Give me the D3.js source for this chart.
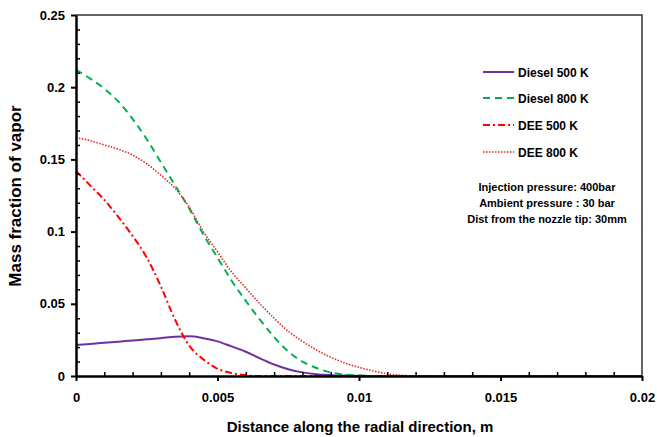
<!DOCTYPE html>
<html>
<head>
<meta charset="utf-8">
<script src="https://cdn.jsdelivr.net/npm/d3@7"></script>
<style>
  html, body { margin: 0; padding: 0; background: #fff; }
  svg { display: block; font-family: "Liberation Sans", Arial, sans-serif; font-weight: bold; }
</style>
</head>
<body>
<svg id="chart" width="657" height="437"></svg>
<script>
// Radial distance (m)
const radius = [0, 0.0005, 0.001, 0.0015, 0.002, 0.0025, 0.003, 0.0035, 0.004, 0.0045,
  0.005, 0.0055, 0.006, 0.0065, 0.007, 0.0075, 0.008, 0.0085, 0.009, 0.0095,
  0.01, 0.0105, 0.011, 0.0115, 0.012, 0.014, 0.016, 0.018, 0.02];

// Mass fraction of vapor for each case
const diesel500 = [0.0215, 0.0222, 0.0230, 0.0238, 0.0246, 0.0254, 0.0262, 0.0272, 0.0275, 0.0262,
  0.0240, 0.0205, 0.0168, 0.0122, 0.0080, 0.0047, 0.0025, 0.0012, 0.0006, 0.0003,
  0.0001, 0, 0, 0, 0, 0, 0, 0, 0];
const diesel800 = [0.212, 0.206, 0.199, 0.190, 0.178, 0.164, 0.148, 0.132, 0.116, 0.098,
  0.082, 0.066, 0.052, 0.039, 0.027, 0.017, 0.010, 0.0055, 0.0025, 0.001,
  0.0003, 0, 0, 0, 0, 0, 0, 0, 0];
const dee500 = [0.142, 0.132, 0.122, 0.110, 0.097, 0.082, 0.062, 0.039, 0.021, 0.0115,
  0.005, 0.002, 0.0005, 0, 0, 0, 0, 0, 0, 0,
  0, 0, 0, 0, 0, 0, 0, 0, 0];
const dee800 = [0.165, 0.163, 0.160, 0.157, 0.153, 0.147, 0.139, 0.130, 0.117, 0.100,
  0.086, 0.072, 0.061, 0.050, 0.040, 0.031, 0.024, 0.018, 0.013, 0.009,
  0.006, 0.0035, 0.0015, 0.0005, 0, 0, 0, 0, 0];

const seriesNames = ["Diesel 500 K", "Diesel 800 K", "DEE 500 K", "DEE 800 K"];
const xTicks = [0, 0.005, 0.01, 0.015, 0.02];
const xTickLabels = ["0", "0.005", "0.01", "0.015", "0.02"];
const yTicks = [0, 0.05, 0.1, 0.15, 0.2, 0.25];
const yTickLabels = ["0", "0.05", "0.1", "0.15", "0.2", "0.25"];
const notes = ["Injection pressure: 400bar", "Ambient pressure : 30 bar", "Dist from the nozzle tip: 30mm"];

const styles = [
  { color: "#7030a0", dash: null, width: 2 },
  { color: "#00b050", dash: "7,5", width: 2 },
  { color: "#ff0000", dash: "7,3,2,3", width: 2 },
  { color: "#e02828", dash: "1.5,1.5", width: 1.6 }
];
const seriesValues = [diesel500, diesel800, dee500, dee800];

const svg = d3.select("#chart");
const plot = { left: 76, right: 642, top: 15, bottom: 376 };

const x = d3.scaleLinear().domain([0, 0.02]).range([plot.left, plot.right]);
const y = d3.scaleLinear().domain([0, 0.25]).range([plot.bottom, plot.top]);

// Plot-area frame (top and right)
svg.append("path")
  .attr("d", `M${plot.left},${plot.top}H${plot.right}V${plot.bottom}`)
  .attr("fill", "none").attr("stroke", "#333").attr("stroke-width", 1.5);

// Series curves
const line = d3.line()
  .x(d => x(d[0]))
  .y(d => y(d[1]))
  .curve(d3.curveMonotoneX);

seriesValues.forEach((vals, i) => {
  const pts = radius.map((r, k) => [r, vals[k]]);
  svg.append("path")
    .datum(pts)
    .attr("d", line)
    .attr("fill", "none")
    .attr("stroke", styles[i].color)
    .attr("stroke-width", styles[i].width)
    .attr("stroke-dasharray", styles[i].dash);
});

// Y axis: outward majors, inward minors
const yMinor = d3.range(0, 0.2501, 0.01).filter(v => Math.abs(v / 0.05 - Math.round(v / 0.05)) > 1e-6);
svg.append("g")
  .attr("transform", `translate(${plot.left},0)`)
  .call(d3.axisRight(y).tickValues(yMinor).tickSize(4).tickFormat(""))
  .call(g => g.select(".domain").remove())
  .call(g => g.selectAll("line").attr("stroke", "#000").attr("stroke-width", 1.5));

const yAxis = svg.append("g")
  .attr("transform", `translate(${plot.left},0)`)
  .call(d3.axisLeft(y).tickValues(yTicks).tickSize(5).tickSizeOuter(0).tickPadding(6)
    .tickFormat((d, i) => yTickLabels[i]));
yAxis.select(".domain").attr("stroke", "#000").attr("stroke-width", 2.5);
yAxis.selectAll(".tick line").attr("stroke", "#000").attr("stroke-width", 2);
yAxis.selectAll("text").attr("font-size", 13).attr("font-weight", "bold")
  .attr("font-family", "Liberation Sans, Arial, sans-serif").attr("fill", "#000");

// X axis: outward majors, inward minors
const xMinor = d3.range(0, 0.02001, 0.001).filter(v => Math.abs(v / 0.005 - Math.round(v / 0.005)) > 1e-6);
svg.append("g")
  .attr("transform", `translate(0,${plot.bottom})`)
  .call(d3.axisTop(x).tickValues(xMinor).tickSize(4).tickFormat(""))
  .call(g => g.select(".domain").remove())
  .call(g => g.selectAll("line").attr("stroke", "#000").attr("stroke-width", 1.5));

const xAxis = svg.append("g")
  .attr("transform", `translate(0,${plot.bottom})`)
  .call(d3.axisBottom(x).tickValues(xTicks).tickSize(5).tickSizeOuter(0).tickPadding(12)
    .tickFormat((d, i) => xTickLabels[i]));
xAxis.select(".domain").attr("stroke", "#000").attr("stroke-width", 2.5);
xAxis.selectAll(".tick line").attr("stroke", "#000").attr("stroke-width", 2);
xAxis.selectAll("text").attr("font-size", 13).attr("font-weight", "bold")
  .attr("font-family", "Liberation Sans, Arial, sans-serif").attr("fill", "#000");

// Axis titles
svg.append("text")
  .attr("x", 360).attr("y", 432)
  .attr("text-anchor", "middle").attr("font-size", 15)
  .text("Distance along the radial direction, m");
svg.append("text")
  .attr("transform", "translate(21,196) rotate(-90)")
  .attr("text-anchor", "middle").attr("font-size", 17)
  .text("Mass fraction of vapor");

// Legend
const legendY = [72, 98, 125, 152];
seriesNames.forEach((name, i) => {
  const g = svg.append("g").attr("transform", `translate(483,${legendY[i]})`);
  g.append("line").attr("x1", 0).attr("x2", 31).attr("y1", 0).attr("y2", 0)
    .attr("stroke", styles[i].color).attr("stroke-width", styles[i].width)
    .attr("stroke-dasharray", styles[i].dash);
  g.append("text").attr("x", 35).attr("y", 4.5).attr("font-size", 12).text(name);
});

// Test-condition notes
notes.forEach((t, i) => {
  svg.append("text")
    .attr("x", 547).attr("y", 191 + i * 16)
    .attr("text-anchor", "middle").attr("font-size", 11)
    .text(t);
});
</script>
</body>
</html>
